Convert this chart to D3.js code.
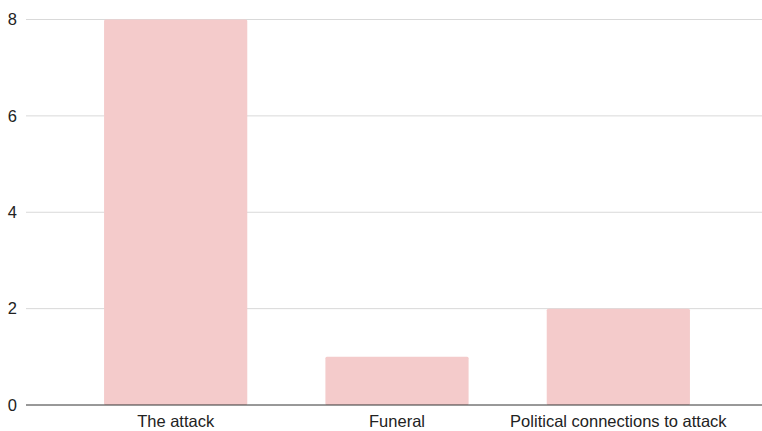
<!DOCTYPE html>
<html>
<head>
<meta charset="utf-8">
<script src="https://cdn.jsdelivr.net/npm/d3@7"></script>
<style>
  html, body { margin: 0; padding: 0; background: #fff; }
  svg { display: block; font-family: "Liberation Sans", Arial, sans-serif; }
</style>
</head>
<body>
<svg id="chart" width="762" height="431"></svg>
<script>
// Topic counts
const categories = ["The attack", "Funeral", "Political connections to attack"];
const counts = [8, 1, 2];
const yTicks = [0, 2, 4, 6, 8];

const svg = d3.select("#chart");
const plot = { left: 26, right: 762, top: 19.5, bottom: 405 };
const fontSize = 16.5;

const x = d3.scaleBand()
  .domain(categories)
  .range([65, 729])
  .paddingInner(0.353)
  .paddingOuter(0.1765);

const y = d3.scaleLinear()
  .domain([0, 8])
  .range([plot.bottom, plot.top]);

// Horizontal gridlines
svg.append("g")
  .selectAll("line")
  .data(yTicks.filter(d => d !== 0))
  .join("line")
  .attr("x1", plot.left)
  .attr("x2", plot.right)
  .attr("y1", d => y(d))
  .attr("y2", d => y(d))
  .attr("stroke", "#d9d9d9")
  .attr("stroke-width", 1);

// Y tick labels
svg.append("g")
  .selectAll("text")
  .data(yTicks)
  .join("text")
  .attr("x", 17)
  .attr("y", d => y(d))
  .attr("dy", "0.35em")
  .attr("text-anchor", "end")
  .attr("font-size", fontSize)
  .attr("fill", "#222")
  .text(d => d);

// Bars
svg.append("g")
  .selectAll("rect")
  .data(categories.map((c, i) => ({ c, v: counts[i] })))
  .join("rect")
  .attr("x", d => x(d.c))
  .attr("width", x.bandwidth())
  .attr("y", d => y(d.v))
  .attr("height", d => y(0) - y(d.v))
  .attr("rx", 1.5)
  .attr("fill", "#f4cbcb");

// Baseline
svg.append("line")
  .attr("x1", plot.left)
  .attr("x2", plot.right)
  .attr("y1", y(0))
  .attr("y2", y(0))
  .attr("stroke", "#333")
  .attr("stroke-width", 1);

// X axis labels
const xAxis = d3.axisBottom(x).tickSize(0).tickPadding(0);
const xg = svg.append("g")
  .attr("transform", `translate(0,${y(0)})`)
  .call(xAxis);
xg.select(".domain").remove();
xg.selectAll("text")
  .attr("y", 22)
  .attr("dy", 0)
  .attr("font-size", fontSize)
  .attr("font-family", "\"Liberation Sans\", Arial, sans-serif")
  .attr("fill", "#222");
</script>
</body>
</html>
